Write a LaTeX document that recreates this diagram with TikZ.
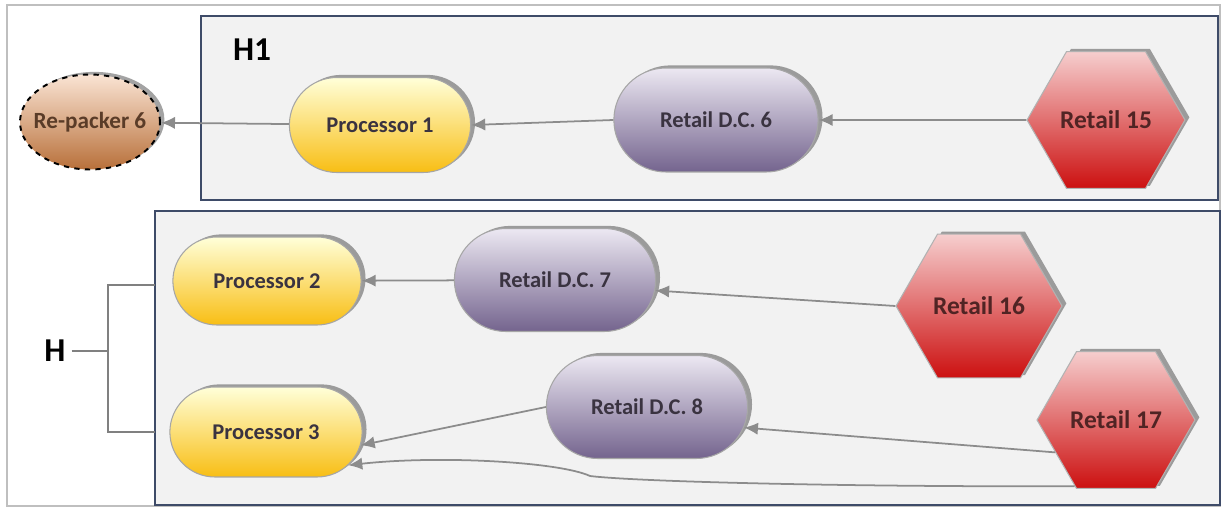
\documentclass[tikz,border=0pt]{standalone}
\usepackage{fontspec}
\setsansfont{Carlito}
\usepackage{tikz}
\usetikzlibrary{shapes.geometric,shapes.misc,shadows,arrows.meta,positioning}
\definecolor{linkgray}{HTML}{8C8C8C}
\definecolor{boxedge}{HTML}{3E4B68}
\definecolor{boxfill}{HTML}{F2F2F2}
\definecolor{textdark}{HTML}{3A3340}

\begin{document}
\begin{tikzpicture}[x=0.02cm,y=-0.02cm,font=\sffamily\bfseries\fontsize{12.8}{15}\selectfont]
		\tikzset{>={Latex[length=8pt,width=7pt]}}
		\tikzstyle{nodeshadow}=[drop shadow={shadow xshift=2.5pt,shadow yshift=1.5pt,opacity=0.45,fill=black!80}]
		\tikzstyle{procnode}=[rounded rectangle, minimum width=3.96cm, minimum height=1.8cm, draw=gray!70, line width=0.6pt, top color=yellow!15!white, bottom color={rgb,255:red,248;green,190;blue,20}, nodeshadow, text=textdark]
		\tikzstyle{dcnode}=[rounded rectangle, minimum width=4.26cm, minimum height=2.06cm, draw=gray!70, line width=0.6pt, top color={rgb,255:red,236;green,232;blue,242}, bottom color={rgb,255:red,116;green,100;blue,142}, nodeshadow, text=textdark]
		\tikzstyle{retailnode}=[regular polygon, regular polygon sides=6, inner sep=0pt, minimum size=3.2cm, draw=gray!60, line width=0.6pt, top color={rgb,255:red,246;green,206;blue,206}, bottom color={rgb,255:red,204;green,16;blue,16}, nodeshadow, text={rgb,255:red,80;green,36;blue,36}, font=\sffamily\bfseries\fontsize{14.5}{16}\selectfont]
		\tikzstyle{groupbox}=[draw=boxedge, line width=1.1pt, fill=boxfill]
		\tikzstyle{link}=[->, draw=linkgray, line width=1pt, color=linkgray]
		\tikzstyle{bracket}=[draw=gray, line width=0.7pt]
		\tikzstyle{grouplabel}=[font=\sffamily\bfseries\fontsize{19}{21}\selectfont]
		\useasboundingbox (0,0) rectangle (1226,510);
		\draw[gray!50, line width=0.8pt] (7,5) rectangle (1220,506);
		% the two groups
		\draw[groupbox] (201,16) rectangle (1218,200);
		\draw[groupbox] (155,211) rectangle (1220,505);
		\node[grouplabel] (hone) at (252,50) {H1};
		\node[grouplabel] (hlabel) at (55,351) {H};
		% nodes
		\node[ellipse, minimum width=2.8cm, minimum height=1.9cm, inner xsep=-7pt, inner ysep=0pt, draw=black, dashed, line width=1.1pt, top color={rgb,255:red,250;green,228;blue,212}, bottom color={rgb,255:red,184;green,112;blue,58}, nodeshadow, text={rgb,255:red,90;green,60;blue,40}, font=\sffamily\bfseries\fontsize{13.2}{15}\selectfont] (repacker) at (90,122) {Re-packer 6};
		\node[procnode, minimum width=3.86cm, minimum height=1.9cm] (proc1) at (380,125) {Processor 1};
		\node[dcnode, minimum width=4.32cm, minimum height=2.08cm] (dc6) at (716,120) {Retail D.C. 6};
		\node[retailnode, minimum size=3.16cm] (ret15) at (1106,120) {Retail 15};
		\node[procnode, minimum width=4.0cm, minimum height=1.76cm] (proc2) at (267,281) {Processor 2};
		\node[dcnode] (dc7) at (555,280) {Retail D.C. 7};
		\node[retailnode, minimum size=3.32cm] (ret16) at (979,306) {Retail 16};
		\node[procnode, minimum width=4.08cm, minimum height=1.8cm] (proc3) at (266,432) {Processor 3};
		\node[dcnode] (dc8) at (647,407) {Retail D.C. 8};
		\node[retailnode, minimum size=3.16cm] (ret17) at (1116,420) {Retail 17};
		% bracket for H
		\coordinate (brmid) at (108,351);
		\coordinate (brtop) at (108,285);
		\coordinate (brbot) at (108,432);
		\draw[bracket] (hlabel.east) -- (brmid);
		\draw[bracket] (155,285) -- (brtop) -- (brbot) -- (155,432);
		% flows
		\path (proc1) edge[link] (repacker);
		\path (dc6.west) edge[link] (proc1.east);
		\path (ret15) edge[link] (dc6);
		\path (dc7) edge[link] (proc2);
		\path (ret16.west) edge[link] (dc7.-6);
		\path (dc8.west) edge[link] (proc3.-8);
		\path (ret17.208) edge[link] (dc8.-12);
		\draw[link] (ret17.238) .. controls (860,487) and (640,482) .. (590,476) .. controls (560,462) and (440,455) .. (proc3.-22);
	\end{tikzpicture}
\end{document}
